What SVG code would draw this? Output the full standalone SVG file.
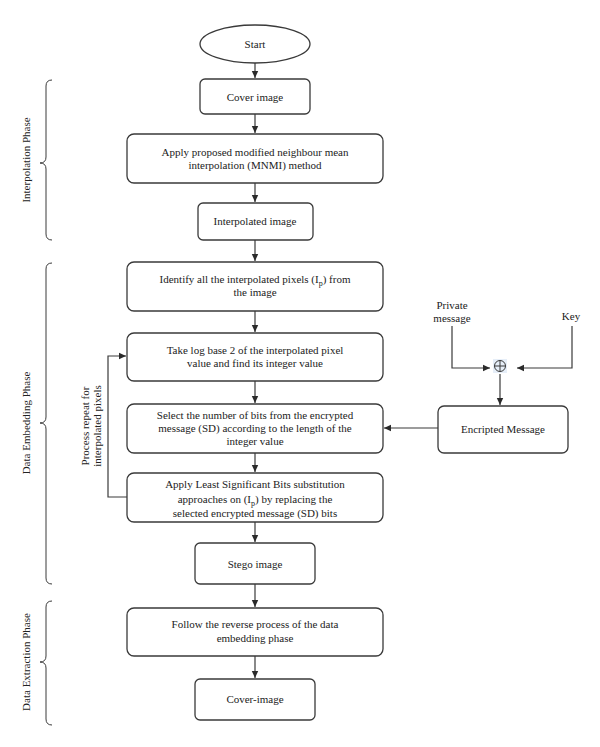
<svg xmlns="http://www.w3.org/2000/svg" width="600" height="747" viewBox="0 0 600 747">
<style>
.box{fill:#fff;stroke:#3a3a3a;stroke-width:1.3}
.t{font-family:"Liberation Serif","Times New Roman",serif;font-size:11px;fill:#222;text-anchor:middle}
.ln{fill:none;stroke:#3a3a3a;stroke-width:1.2}
.br{fill:none;stroke:#3a3a3a;stroke-width:1}
</style>
<defs>
<marker id="ah" markerWidth="8" markerHeight="8" refX="7" refY="4" orient="auto" markerUnits="userSpaceOnUse">
<path d="M0,0.8 L7,4 L0,7.2 Z" fill="#2a2a2a"/>
</marker>
</defs>
<rect width="600" height="747" fill="#fff"/>

<g id="start"><ellipse class="box" cx="255" cy="44" rx="55" ry="19"/><text class="t" x="255" y="48">Start</text></g>
<g id="cover"><rect class="box" x="200" y="79" width="110" height="35" rx="5"/><text class="t" x="255" y="101">Cover image</text></g>
<g id="mnmi"><rect class="box" x="127" y="134" width="256" height="49" rx="7"/><text class="t" x="255" y="156">Apply proposed modified neighbour mean</text><text class="t" x="255" y="169">interpolation (MNMI) method</text></g>
<g id="interp"><rect class="box" x="198" y="203" width="115" height="37" rx="5"/><text class="t" x="255" y="225">Interpolated image</text></g>
<g id="identify"><rect class="box" x="127" y="262" width="256" height="49" rx="7"/><text class="t" x="255" y="283">Identify all the interpolated pixels (I<tspan font-size="8" dy="3">p</tspan><tspan dy="-3">) from</tspan></text><text class="t" x="255" y="296">the image</text></g>
<g id="log"><rect class="box" x="127" y="333" width="256" height="48" rx="7"/><text class="t" x="255" y="354">Take log base 2 of the interpolated pixel</text><text class="t" x="255" y="367">value and find its integer value</text></g>
<g id="select"><rect class="box" x="127" y="404" width="256" height="49" rx="7"/><text class="t" x="255" y="419">Select the number of bits from the encrypted</text><text class="t" x="255" y="432">message (SD) according to the length of the</text><text class="t" x="255" y="445">integer value</text></g>
<g id="lsb"><rect class="box" x="127" y="473" width="256" height="49" rx="7"/><text class="t" x="255" y="488">Apply Least Significant Bits substitution</text><text class="t" x="255" y="503">approaches on (I<tspan font-size="8" dy="3">p</tspan><tspan dy="-3">) by replacing the</tspan></text><text class="t" x="255" y="517">selected encrypted message (SD) bits</text></g>
<g id="stego"><rect class="box" x="195" y="543" width="120" height="41" rx="5"/><text class="t" x="255" y="568">Stego image</text></g>
<g id="reverse"><rect class="box" x="127" y="608" width="256" height="48" rx="7"/><text class="t" x="255" y="628">Follow the reverse process of the data</text><text class="t" x="255" y="642">embedding phase</text></g>
<g id="coverimage"><rect class="box" x="195" y="679" width="120" height="41" rx="5"/><text class="t" x="255" y="703">Cover-image</text></g>
<g id="encripted"><rect class="box" x="438" y="406" width="130" height="47" rx="6"/><text class="t" x="503" y="433">Encripted Message</text></g>
<g id="private"><text class="t" x="452" y="309">Private</text><text class="t" x="452" y="322">message</text></g>
<g id="key"><text class="t" x="571" y="320">Key</text></g>
<g id="xor"><rect x="493" y="359" width="14" height="14" fill="#e6eef8"/><circle cx="500" cy="366" r="5.5" fill="none" stroke="#3a3a3a" stroke-width="1"/><path d="M494.5,366 H505.5 M500,360.5 V371.5" class="br"/></g>

<g id="connectors">
<path class="ln" d="M255,63 V78" marker-end="url(#ah)"/>
<path class="ln" d="M255,114 V133" marker-end="url(#ah)"/>
<path class="ln" d="M255,183 V202" marker-end="url(#ah)"/>
<path class="ln" d="M255,240 V261" marker-end="url(#ah)"/>
<path class="ln" d="M255,311 V332" marker-end="url(#ah)"/>
<path class="ln" d="M255,381 V403" marker-end="url(#ah)"/>
<path class="ln" d="M255,453 V472" marker-end="url(#ah)"/>
<path class="ln" d="M255,522 V542" marker-end="url(#ah)"/>
<path class="ln" d="M255,584 V607" marker-end="url(#ah)"/>
<path class="ln" d="M255,656 V678" marker-end="url(#ah)"/>
<path class="ln" d="M127,497 H108 V356 H126" marker-end="url(#ah)"/>
<path class="ln" d="M452,326 V368 H490" marker-end="url(#ah)"/>
<path class="ln" d="M572,326 V368 H517" marker-end="url(#ah)"/>
<path class="ln" d="M500,374 V405" marker-end="url(#ah)"/>
<path class="ln" d="M438,428 H384" marker-end="url(#ah)"/>
</g>

<g id="phases">
<path class="br" d="M52,80 Q46,80 46,86 V157 Q46,163 40,163 Q46,163 46,169 V234 Q46,240 52,240"/>
<path class="br" d="M52,263 Q46,263 46,269 V417 Q46,423 40,423 Q46,423 46,429 V578 Q46,584 52,584"/>
<path class="br" d="M52,601 Q46,601 46,607 V656 Q46,662 40,662 Q46,662 46,668 V719 Q46,725 52,725"/>
<text class="t" transform="translate(30,160) rotate(-90)">Interpolation Phase</text>
<text class="t" transform="translate(30,423) rotate(-90)">Data Embedding Phase</text>
<text class="t" transform="translate(30,662) rotate(-90)">Data Extraction Phase</text>
<text class="t" transform="translate(89,426) rotate(-90)">Process repeat for</text>
<text class="t" transform="translate(101,426) rotate(-90)">interpolated pixels</text>
</g>
</svg>
